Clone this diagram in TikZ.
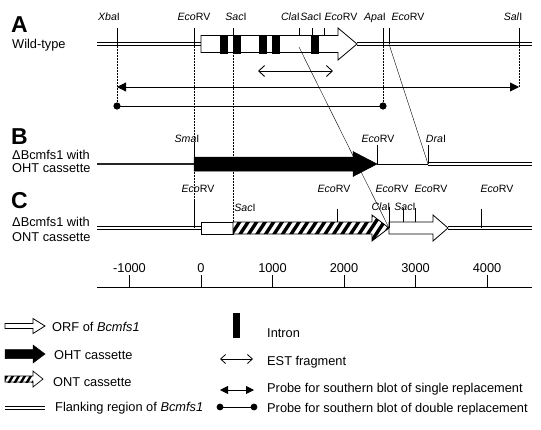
\documentclass[tikz,border=0pt]{standalone}
\usepackage{fontspec}
\setmainfont{Liberation Sans}
\usetikzlibrary{arrows.meta}
\newcommand{\rsite}[2]{\textit{#1}#2}
\newcommand{\flankline}[2]{%
  \draw[line width=0.9pt] ([yshift=1.3pt]#1) -- ([yshift=1.3pt]#2);
  \draw[line width=0.9pt] ([yshift=-1.3pt]#1) -- ([yshift=-1.3pt]#2);}
\begin{document}
\begin{tikzpicture}[x=1pt,y=-1pt,
  site/.style={font=\fontsize{10.6}{12}\selectfont, inner sep=0pt, anchor=base},
  lab/.style={font=\fontsize{12.8}{14}\selectfont, inner sep=0pt, anchor=base west},
  axlab/.style={font=\fontsize{12.8}{14}\selectfont, inner sep=0pt, anchor=base},
  big/.style={font=\fontsize{23}{24}\selectfont\bfseries, inner sep=0pt, anchor=base west},
  tickline/.style={line width=0.8pt},
  guide/.style={densely dotted, line width=0.5pt},
  diag/.style={line width=0.4pt},
  openarr/.style={draw, fill=white, line width=0.8pt},
  blackarr/.style={draw, fill=black, line width=0.5pt},
  intron/.style={fill=black},
  hatch/.style={line width=3.4pt},
]
\useasboundingbox (0,0) rectangle (541,429);

% ---------------- Row A : wild type ----------------
\coordinate (A0) at (97,44);
\coordinate (Aorf) at (201,44);
\coordinate (Atip) at (357,44);
\coordinate (A1) at (532,44);
\coordinate (xbaA) at (117,44);
\coordinate (ecoA) at (194,44);
\coordinate (sacA) at (233,44);
\coordinate (apaA) at (383,44);
\coordinate (ecoA3) at (389,44);
\coordinate (salA) at (519,44);
\coordinate (claA) at (299,47);

% dotted guides
\coordinate (xbaP) at (117,106);
\coordinate (salP) at (519,87);
\coordinate (apaP) at (383,106);
\coordinate (ecoC) at (194,228);
\coordinate (sacC) at (233,222);
\draw[guide] (xbaA) -- (xbaP);
\draw[guide] (ecoA) -- (ecoC);
\draw[guide] (sacA) -- (sacC);
\draw[guide] (apaA) -- (apaP);
\draw[guide] (salA) -- (salP);

\flankline{A0}{Aorf}
\flankline{Atip}{A1}
\draw[openarr] (201,35.5) -- (338,35.5) -- (338,28) -- (Atip) -- (338,60) -- (338,52.5) -- (201,52.5) -- cycle;
\foreach \x in {220,233,259,272,311}
  \fill[intron] (\x,34.5) rectangle ++(8,19.5);

\foreach \x in {117,194,383,389,519}
  \draw[tickline] (\x,28) -- (\x,44);
\foreach \x in {233,299,312,324}
  \draw[tickline] (\x,28) -- (\x,35.5);

\node[site] (lXbaA) at (109,20) {\rsite{Xba}{I}};
\node[site] (lEcoA1) at (194,20) {\rsite{Eco}{RV}};
\node[site] (lSacA1) at (236,20) {\rsite{Sac}{I}};
\node[site] (lClaA) at (290.5,20) {\rsite{Cla}{I}};
\node[site] (lSacA2) at (311,20) {\rsite{Sac}{I}};
\node[site] (lEcoA2) at (341,20) {\rsite{Eco}{RV}};
\node[site] (lApaA) at (375,20) {\rsite{Apa}{I}};
\node[site] (lEcoA3) at (408,20) {\rsite{Eco}{RV}};
\node[site] (lSalA) at (513,20) {\rsite{Sal}{I}};

\node[big] (tA) at (11,32) {A};
\node[lab] (wt) at (12,48) {Wild-type};

% EST fragment and probes
\coordinate (est0) at (258,71);
\coordinate (est1) at (333,71);
\draw[line width=0.9pt, {Straight Barb[length=6pt,width=11pt]}-{Straight Barb[length=6pt,width=11pt]}] (est0) -- (est1);
\coordinate (pr0) at (117,87);
\draw[line width=0.9pt, {Triangle[length=9pt,width=9pt]}-{Triangle[length=9pt,width=9pt]}] (pr0) -- (salP);
\coordinate (pd0) at (117,106);
\draw[line width=0.9pt] (pd0) -- (apaP);
\fill (pd0) circle (3.6);
\fill (apaP) circle (3.6);

% ---------------- Row B : OHT ----------------
\coordinate (B0) at (97,164);
\coordinate (smaB) at (194,164);
\coordinate (ecoB) at (377,164);
\coordinate (draB) at (428,164);
\coordinate (B1) at (532,164);
\draw[line width=2.4pt, black!85] (B0) -- (smaB);
\draw[line width=0.8pt] (ecoB) -- (draB);
\flankline{draB}{B1}
\draw[blackarr] (194,157) -- (353,157) -- (353,151.5) -- (ecoB) -- (353,176.5) -- (353,171) -- (194,171) -- cycle;
\draw[tickline] (194,143) -- (smaB);
\draw[tickline] (377,145) -- (ecoB);
\draw[tickline] (428,145) -- (draB);
\node[site] (lSmaB) at (187,142) {\rsite{Sma}{I}};
\node[site] (lEcoB) at (378,142) {\rsite{Eco}{RV}};
\node[site] (lDraB) at (436,142) {\rsite{Dra}{I}};

\node[big] (tB) at (11,144) {B};
\node[lab] (b1) at (12,159) {ΔBcmfs1 with};
\node[lab] (b2) at (12,172) {OHT cassette};

% ---------------- Row C : ONT ----------------
\coordinate (C0) at (97,228);
\coordinate (Corf) at (201,228);
\coordinate (claC) at (389,228);
\coordinate (Ctip) at (448,228);
\coordinate (C1) at (532,228);
\flankline{C0}{Corf}
\flankline{Ctip}{C1}
\draw[openarr] (201,222) rectangle (233,234);
\begin{scope}
  \clip (233,222) -- (372,222) -- (372,215) -- (claC) -- (372,241) -- (372,234) -- (233,234) -- cycle;
  \fill[white] (230,210) rectangle (395,245);
  \foreach \x in {216,224.5,...,400}
    \draw[hatch] (\x,245) -- ++(21,-32);
\end{scope}
\draw[line width=0.8pt] (233,222) -- (372,222) -- (372,215) -- (claC) -- (372,241) -- (372,234) -- (233,234) -- cycle;
\draw[openarr] (389,222) -- (433,222) -- (433,215) -- (Ctip) -- (433,241) -- (433,234) -- (389,234) -- cycle;

\draw[tickline] (194,200) -- (ecoC);
\draw[tickline] (337,209) -- (337,222);
\draw[tickline] (389,207) -- (claC);
\draw[tickline] (403,208) -- (403,222);
\draw[tickline] (415,208) -- (415,222);
\draw[tickline] (481,209) -- (481,228);

\node[site] (lEcoC1) at (198,192) {\rsite{Eco}{RV}};
\node[site] (lEcoC2) at (334,192) {\rsite{Eco}{RV}};
\node[site] (lEcoC3) at (392,192) {\rsite{Eco}{RV}};
\node[site] (lEcoC4) at (431,192) {\rsite{Eco}{RV}};
\node[site] (lEcoC5) at (497,192) {\rsite{Eco}{RV}};
\node[site] (lSacC1) at (245,211) {\rsite{Sac}{I}};
\node[site] (lClaC) at (381,210) {\rsite{Cla}{I}};
\node[site] (lSacC2) at (405,210) {\rsite{Sac}{I}};

\node[big] (tC) at (11,208) {C};
\node[lab] (c1) at (12,226) {ΔBcmfs1 with};
\node[lab] (c2) at (12,241) {ONT cassette};

% diagonal correspondences
\draw[diag] (ecoA3) -- (draB);
\draw[diag] (claA) -- (claC);

% ---------------- Scale ----------------
\coordinate (ax0) at (97,287);
\coordinate (ax1) at (532,287);
\draw[line width=0.8pt] (ax0) -- (ax1);
\foreach \v [count=\i from -1] in {-1000,0,1000,2000,3000,4000} {
  \pgfmathsetmacro{\xx}{201+71.5*\i}
  \draw[tickline] (\xx,275) -- (\xx,287);
  \node[axlab] (ax\i) at (\xx,272) {\v};
}

% ---------------- Legend ----------------
\draw[openarr] (5,323.5) -- (33,323.5) -- (33,318.5) -- (45,326) -- (33,333.5) -- (33,328.5) -- (5,328.5) -- cycle;
\node[lab] (g1) at (52,331) {ORF of \textit{Bcmfs1}};

\draw[blackarr] (5,349.5) -- (33,349.5) -- (33,345) -- (45,354) -- (33,363) -- (33,358.5) -- (5,358.5) -- cycle;
\node[lab] (g2) at (54,359) {OHT cassette};

\begin{scope}
  \clip (5,376) rectangle (33,382);
  \foreach \x in {-4,2,...,40}
    \draw[line width=2.4pt] (\x,384) -- ++(6,-10);
\end{scope}
\draw[line width=0.7pt] (5,376) -- (33,376) -- (33,371) -- (43,379) -- (33,387) -- (33,382) -- (5,382) -- cycle;
\node[lab] (g3) at (53,386) {ONT cassette};

\coordinate (fl0) at (5,408);
\coordinate (fl1) at (45,408);
\flankline{fl0}{fl1}
\node[lab] (g4) at (55,411.5) {Flanking region of \textit{Bcmfs1}};

\fill[intron] (233,313) rectangle (240,338);
\node[lab] (g5) at (267,337) {Intron};

\coordinate (e0) at (220,359);
\coordinate (e1) at (253,359);
\draw[line width=0.8pt, {Straight Barb[length=5pt,width=9pt]}-{Straight Barb[length=5pt,width=9pt]}] (e0) -- (e1);
\node[lab] (g6) at (267,365) {EST fragment};

\coordinate (s0) at (220,390);
\coordinate (s1) at (254,390);
\draw[line width=0.9pt, {Triangle[length=8pt,width=8pt]}-{Triangle[length=8pt,width=8pt]}] (s0) -- (s1);
\node[lab] (g7) at (267,392) {Probe for southern blot of single replacement};

\coordinate (d0) at (220,407);
\coordinate (d1) at (254,407);
\draw[line width=0.9pt] (d0) -- (d1);
\fill (d0) circle (3.4);
\fill (d1) circle (3.4);
\node[lab] (g8) at (267,412) {Probe for southern blot of double replacement};
\end{tikzpicture}
\end{document}
